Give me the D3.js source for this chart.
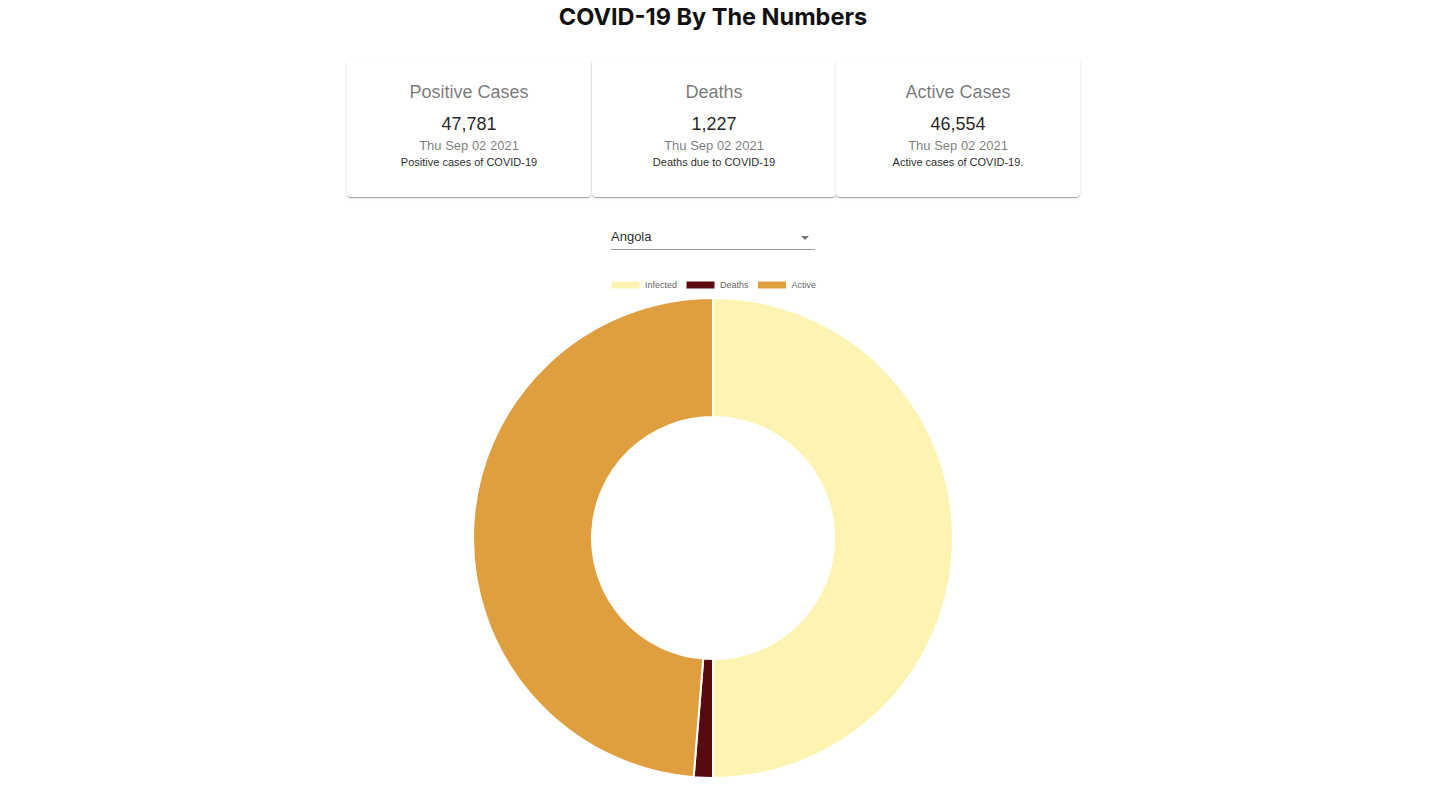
<!DOCTYPE html>
<html>
<head>
<meta charset="utf-8">
<script src="https://cdn.jsdelivr.net/npm/d3@7"></script>
<style>
  html, body { margin: 0; padding: 0; background: #fff; width: 1436px; height: 795px; overflow: hidden; }
  body { position: relative; font-family: "Liberation Sans", Arial, sans-serif; }
  .title { position: absolute; left: 0; width: 1426px; top: 2px; text-align: center; font-family: Inter, "DejaVu Sans", sans-serif; font-weight: 700; font-size: 23.5px; color: #111; }
  .card { position: absolute; top: 59px; height: 138px; background: #fff; border-radius: 4px;
    box-shadow: 0px 2px 1px -1px rgba(0,0,0,0.2), 0px 1px 1px 0px rgba(0,0,0,0.14), 0px 1px 3px 0px rgba(0,0,0,0.12);
    text-align: center; }
  .card .h { position: absolute; left: 0; right: 0; top: 23px; font-size: 18px; color: rgba(0,0,0,0.54); }
  .card .n { position: absolute; left: 0; right: 0; top: 55px; font-size: 18px; color: rgba(0,0,0,0.87); }
  .card .d { position: absolute; left: 0; right: 0; top: 79px; font-size: 13px; color: rgba(0,0,0,0.54); }
  .card .s { position: absolute; left: 0; right: 0; top: 97px; font-size: 11px; color: rgba(0,0,0,0.87); }
  .select { position: absolute; left: 611px; top: 228px; width: 204px; height: 21px; border-bottom: 1px solid #9e9e9e; font-size: 13px; color: rgba(0,0,0,0.87); }
  .select .v { position: absolute; left: 0; top: 1px; }
  .select .a { position: absolute; right: 6px; top: 8px; width: 0; height: 0; border-left: 4px solid transparent; border-right: 4px solid transparent; border-top: 4px solid #757575; }
  svg { position: absolute; left: 0; top: 0; }
</style>
</head>
<body>
<div class="title">COVID-19 By The Numbers</div>
<div id="cards"></div>
<div class="select"><span class="v">Angola</span><span class="a"></span></div>
<svg id="chart" width="1436" height="795"></svg>
<script>
const categories = ["Infected", "Deaths", "Active"];
const values = [47781, 1227, 46554];
const colors = ["#fdf3b3", "#570b10", "#df9f3f"];

const cardTitles = ["Positive Cases", "Deaths", "Active Cases"];
const cardValues = [47781, 1227, 46554];
const cardDates = ["Thu Sep 02 2021", "Thu Sep 02 2021", "Thu Sep 02 2021"];
const cardDescs = ["Positive cases of COVID-19", "Deaths due to COVID-19", "Active cases of COVID-19."];
const country = "Angola";

// Cards
const cardLefts = [347, 592, 836];
const cardWidth = 244;
const fmt = d3.format(",");
const cards = d3.select("#cards").selectAll("div.card")
  .data(cardTitles.map((t, i) => ({ t, v: cardValues[i], d: cardDates[i], s: cardDescs[i], x: cardLefts[i] })))
  .join("div").attr("class", "card")
  .style("left", d => d.x + "px").style("width", cardWidth + "px");
cards.append("div").attr("class", "h").text(d => d.t);
cards.append("div").attr("class", "n").text(d => fmt(d.v));
cards.append("div").attr("class", "d").text(d => d.d);
cards.append("div").attr("class", "s").text(d => d.s);
d3.select(".select .v").text(country);

// Doughnut
const svg = d3.select("#chart");
const cx = 713, cy = 538, outerR = 240, innerR = 121;
const pie = d3.pie().sort(null).value(d => d.v).startAngle(0).endAngle(2 * Math.PI);
const arc = d3.arc().innerRadius(innerR).outerRadius(outerR);
const data = categories.map((c, i) => ({ c, v: values[i] }));
const color = d3.scaleOrdinal().domain(categories).range(colors);

svg.append("g").attr("transform", `translate(${cx},${cy})`)
  .selectAll("path").data(pie(data)).join("path")
  .attr("d", arc)
  .attr("fill", d => color(d.data.c))
  .attr("stroke", "#fff").attr("stroke-width", 2).attr("stroke-linejoin", "round");

// Legend
const lg = svg.append("g").attr("transform", "translate(0,285)");
const boxW = 29, boxH = 8, gapTxt = 5, gapItem = 9;
const items = lg.selectAll("g").data(data).join("g");
items.append("rect").attr("width", boxW).attr("height", boxH).attr("y", -4)
  .attr("fill", d => color(d.c)).attr("stroke", "#fff").attr("stroke-width", 1);
items.append("text").attr("x", boxW + gapTxt).attr("y", 0).attr("dy", "0.35em")
  .attr("font-family", "Liberation Sans, Arial, sans-serif").attr("font-size", 9).attr("fill", "#666")
  .text(d => d.c);
let widths = [];
items.each(function () { widths.push(boxW + gapTxt + d3.select(this).select("text").node().getComputedTextLength()); });
const total = d3.sum(widths) + gapItem * (widths.length - 1);
let xpos = 713.5 - total / 2;
items.attr("transform", (d, i) => { const t = `translate(${xpos},0)`; xpos += widths[i] + gapItem; return t; });
</script>
</body>
</html>
